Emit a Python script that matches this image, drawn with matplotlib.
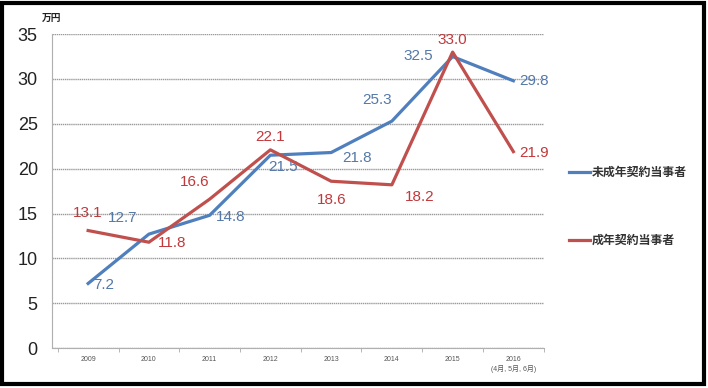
import matplotlib
matplotlib.use("Agg")
import matplotlib.pyplot as plt
from matplotlib.patches import Rectangle

plt.rcParams['font.family'] = ['Liberation Sans', 'Noto Sans CJK JP', 'DejaVu Sans']

years = ["2009", "2010", "2011", "2012", "2013", "2014", "2015", "2016\n(4月, 5月, 6月)"]
minor_vals = [7.2, 12.7, 14.8, 21.5, 21.8, 25.3, 32.5, 29.8]
adult_vals = [13.1, 11.8, 16.6, 22.1, 18.6, 18.2, 33.0, 21.9]
minor_name = "未成年契約当事者"
adult_name = "成年契約当事者"
minor_offsets = [(16, -2), (-26, 16), (21, -2), (13, -12), (26, -5), (-15, 21), (-34, 1), (21, 0)]
adult_offsets = [(0, 18), (23, -1), (-15, 17), (0, 13), (1, -19), (28, -12), (0, 12), (21, -1)]

blue = "#4f7fbd"
red = "#c0504d"
blue_txt = "#5478a8"
red_txt = "#c0393b"

fig = plt.figure(figsize=(7.08, 3.88), dpi=100)
ax = fig.add_axes([0.073, 0.103, 0.695, 0.809])
x = list(range(len(years)))
ax.plot(x, minor_vals, color=blue, lw=2.3, solid_joinstyle='round')
ax.plot(x, adult_vals, color=red, lw=2.3, solid_joinstyle='round')

px = 0.72
for i, (v, o) in enumerate(zip(minor_vals, minor_offsets)):
    ax.annotate(f"{v:.1f}", (i, v), xytext=(o[0]*px, o[1]*px), textcoords='offset points',
                ha='center', va='center', fontsize=11, color=blue_txt)
for i, (v, o) in enumerate(zip(adult_vals, adult_offsets)):
    ax.annotate(f"{v:.1f}", (i, v), xytext=(o[0]*px, o[1]*px), textcoords='offset points',
                ha='center', va='center', fontsize=11, color=red_txt)

ax.set_xlim(-0.6, 7.5)
ax.set_ylim(0, 35)
ax.set_yticks(range(0, 36, 5))
ax.tick_params(axis='y', labelsize=13, length=0, pad=10, colors='#222222')
ax.set_xticks(x)
ax.set_xticklabels(years, fontsize=5, color='#555555')
ax.tick_params(axis='x', length=0, pad=6)
ax.set_xticks([i + 0.5 for i in range(-1, 8)], minor=True)
ax.tick_params(axis='x', which='minor', length=3, color='#aaaaaa')
ax.grid(axis='y', color='#9a9a9a', lw=1, ls=(0, (1, 0.5)))
ax.set_axisbelow(True)
for s in ['top', 'right']:
    ax.spines[s].set_visible(False)
ax.spines['left'].set_color('#b0b0b0')
ax.spines['bottom'].set_color('#b0b0b0')
ax.spines['left'].set_linestyle((0, (1, 0.5)))
ax.spines['bottom'].set_linestyle((0, (1, 0.5)))

fig.text(42/708, 1-18/388, "万円", fontsize=7, fontweight='bold', ha='left', va='center', color='#222222')

# legend
for yy, col, name in [(172, blue, minor_name), (240, red, adult_name)]:
    fig.add_artist(plt.Line2D([569/708, 590/708], [1-yy/388, 1-yy/388], color=col, lw=2.3))
    fig.text(592/708, 1-yy/388, name, fontsize=8.6, fontweight='bold', ha='left', va='center',
             color='#333333', family=['Noto Sans CJK JP'])

fig.add_artist(Rectangle((2/708, 4/388), 702/708, 381/388, fill=False, lw=3, ec='black',
                         transform=fig.transFigure))

fig.savefig("out.png", dpi=100)
